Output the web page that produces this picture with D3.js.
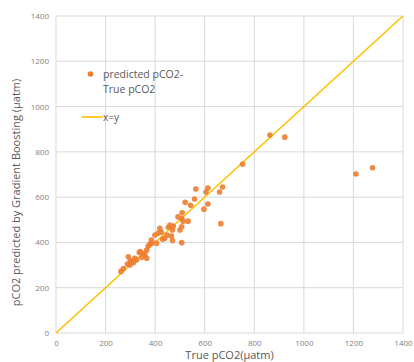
<!DOCTYPE html>
<html>
<head>
<meta charset="utf-8">
<script src="https://cdn.jsdelivr.net/npm/d3@7"></script>
<style>
  body { margin: 0; background: #fff; }
  text { font-family: "Open Sans", sans-serif; }
</style>
</head>
<body>
<svg id="chart" width="414" height="362"></svg>
<script>
'use strict';

// true pCO2 vs predicted pCO2 (µatm)
const trueVals = [262, 272, 292, 298, 312, 325, 336, 346, 352, 359, 366, 372, 379, 366, 386, 406,
  399, 412, 419, 439, 466, 470, 507, 453, 460, 473, 470, 507, 492, 507, 513, 533, 509, 521, 543,
  559, 564, 597, 613, 613, 605, 672, 660, 665, 753, 863, 923, 1210, 1277, 430, 449, 500, 425, 385,
  300, 318, 340, 288, 305];
const predVals = [272, 285, 337, 300, 310, 322, 355, 334, 350, 344, 366, 384, 393, 330, 396, 396,
  433, 440, 462, 418, 428, 408, 399, 467, 477, 472, 455, 469, 513, 506, 494, 494, 531, 577, 564,
  592, 636, 547, 570, 640, 623, 645, 623, 483, 746, 874, 865, 702, 730, 414, 433, 455, 445, 410,
  320, 330, 360, 305, 315];
const ticks = [0, 200, 400, 600, 800, 1000, 1200, 1400];
const legendLabels = ['predicted pCO2-', 'True pCO2'];

const svg = d3.select('#chart');
const margin = {left: 56, right: 11, top: 16, bottom: 29};
const width = 414, height = 362;

const x = d3.scaleLinear().domain([0, 1400]).range([margin.left, width - margin.right]);
const y = d3.scaleLinear().domain([0, 1400]).range([height - margin.bottom, margin.top]);

// gridlines
svg.append('g')
  .selectAll('line')
  .data(ticks)
  .join('line')
    .attr('x1', d => x(d)).attr('x2', d => x(d))
    .attr('y1', y(0)).attr('y2', y(1400))
    .attr('stroke', '#d9d9d9').attr('stroke-width', 1);

svg.append('g')
  .selectAll('line')
  .data(ticks)
  .join('line')
    .attr('y1', d => y(d)).attr('y2', d => y(d))
    .attr('x1', x(0)).attr('x2', x(1400))
    .attr('stroke', '#d9d9d9').attr('stroke-width', 1);

// axes
const fmt = d3.format('d');
const xAxis = svg.append('g')
  .attr('transform', 'translate(0,' + y(0) + ')')
  .call(d3.axisBottom(x).tickValues(ticks).tickFormat(fmt).tickSize(0).tickPadding(7));
const yAxis = svg.append('g')
  .attr('transform', 'translate(' + x(0) + ',0)')
  .call(d3.axisLeft(y).tickValues(ticks).tickFormat(fmt).tickSize(0).tickPadding(7));

[xAxis, yAxis].forEach(g => {
  g.select('.domain').remove();
  g.selectAll('text')
    .attr('fill', '#7f7f7f')
    .style('font-size', '8px')
    .style('font-family', '"Open Sans", sans-serif');
});

// x = y line
svg.append('line')
  .attr('x1', x(0)).attr('y1', y(0))
  .attr('x2', x(1400)).attr('y2', y(1400))
  .attr('stroke', '#ffc000').attr('stroke-width', 1.6);

// points
svg.append('g')
  .selectAll('circle')
  .data(trueVals.map((d, i) => [d, predVals[i]]))
  .join('circle')
    .attr('cx', d => x(d[0]))
    .attr('cy', d => y(d[1]))
    .attr('r', 2.8)
    .attr('fill', '#ed7d31')
    .attr('fill-opacity', 0.9);

// axis titles
svg.append('text')
  .attr('x', (x(0) + x(1400)) / 2)
  .attr('y', 359)
  .attr('text-anchor', 'middle')
  .attr('fill', '#595959')
  .style('font-size', '11px')
  .text('True pCO2(µatm)');

svg.append('text')
  .attr('transform', 'translate(20,' + ((y(0) + y(1400)) / 2 + 18) + ') rotate(-90)')
  .attr('text-anchor', 'middle')
  .attr('fill', '#595959')
  .style('font-size', '11px')
  .text('pCO2 predicted  by Gradient Boosting (µatm)');

// legend
const legend = svg.append('g');
legend.append('circle')
  .attr('cx', 90.5).attr('cy', 74).attr('r', 2.8)
  .attr('fill', '#ed7d31');
legend.selectAll('text')
  .data(legendLabels)
  .join('text')
    .attr('x', 103)
    .attr('y', (d, i) => 78 + i * 15)
    .attr('fill', '#595959')
    .style('font-size', '10.5px')
    .text(d => d);
legend.append('line')
  .attr('x1', 82).attr('x2', 103)
  .attr('y1', 117).attr('y2', 117)
  .attr('stroke', '#ffc000').attr('stroke-width', 1.6);
legend.append('text')
  .attr('x', 103).attr('y', 120.5)
  .attr('fill', '#595959')
  .style('font-size', '10px')
  .text('x=y');
</script>
</body>
</html>
